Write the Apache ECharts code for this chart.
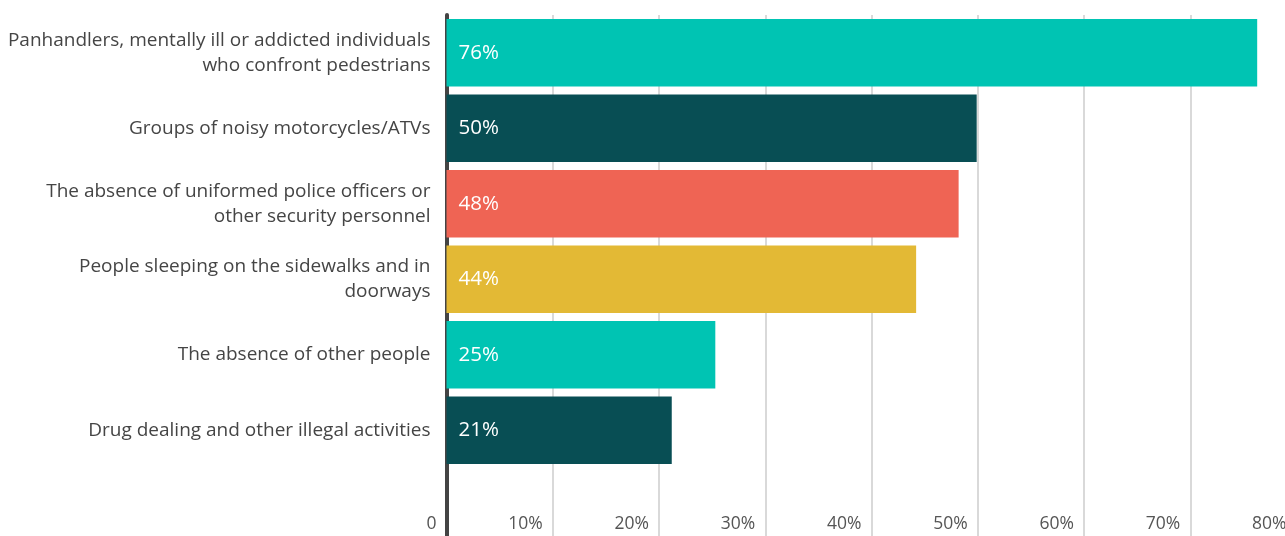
<!DOCTYPE html>
<html>
<head>
<meta charset="utf-8">
<script src="https://cdn.jsdelivr.net/npm/echarts@6/dist/echarts.min.js"></script>
<style>
  html, body { margin: 0; padding: 0; background: #ffffff; }
  #chart { width: 1285px; height: 536px; }
</style>
</head>
<body>
<div id="chart"></div>
<script>
// Categories (top to bottom); last one is an empty spacer row
const categories = [
  "Panhandlers, mentally ill or addicted individuals\nwho confront pedestrians",
  "Groups of noisy motorcycles/ATVs",
  "The absence of uniformed police officers or\nother security personnel",
  "People sleeping on the sidewalks and in\ndoorways",
  "The absence of other people",
  "Drug dealing and other illegal activities",
  ""
];
// Bar lengths (percent)
const values = [76.3, 49.9, 48.2, 44.2, 25.3, 21.2, null];
// Labels printed on bars
const valueLabels = ["76%", "50%", "48%", "44%", "25%", "21%", ""];
const barColors = ["#00C4B3", "#084E54", "#EF6454", "#E3B935", "#00C4B3", "#084E54", "#ffffff"];
// X axis ticks
const xTicks = [0, 10, 20, 30, 40, 50, 60, 70, 80];

const FONT = "'Open Sans', 'Noto Sans', sans-serif";

const chart = echarts.init(document.getElementById('chart'), null, { renderer: 'canvas' });
chart.setOption({
  animation: false,
  backgroundColor: '#ffffff',
  grid: { left: 446.5, width: 850, top: 15, height: 528.5, containLabel: false, outerBoundsMode: 'none' },
  xAxis: {
    type: 'value',
    min: xTicks[0],
    max: xTicks[xTicks.length - 1],
    interval: xTicks[1] - xTicks[0],
    axisLine: { show: false },
    axisTick: { show: false },
    splitLine: { show: true, lineStyle: { color: '#d9d9d9', width: 2 } },
    axisLabel: {
      inside: true,
      margin: 19,
      align: 'right',
      verticalAlign: 'middle',
      padding: [0, 10, 0, 0],
      color: '#555555',
      fontFamily: FONT,
      fontSize: 17.5,
      formatter: v => (v === 0 ? '0' : v + '%')
    }
  },
  yAxis: {
    type: 'category',
    inverse: true,
    data: categories,
    axisLine: { show: true, lineStyle: { color: '#444444', width: 4 } },
    axisTick: { show: false },
    splitLine: { show: false },
    axisLabel: {
      margin: 16,
      align: 'right',
      color: '#454545',
      fontFamily: FONT,
      fontSize: 19,
      lineHeight: 25
    }
  },
  series: [{
    type: 'bar',
    barCategoryGap: '10.3%',
    data: values.map((v, i) => ({ value: v, itemStyle: { color: barColors[i] } })),
    label: {
      show: true,
      position: 'insideLeft',
      distance: 12,
      color: '#ffffff',
      fontFamily: FONT,
      fontSize: 20.5,
      formatter: p => valueLabels[p.dataIndex]
    },
    z: 1
  }]
});
</script>
</body>
</html>
